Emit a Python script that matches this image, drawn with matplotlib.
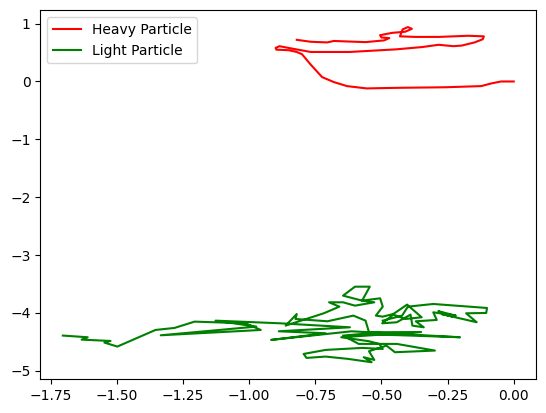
import matplotlib
matplotlib.use("Agg")
import matplotlib.pyplot as plt

# Heavy particle trajectory
HEAVY_X = [0.0, -0.02, -0.048, -0.086, -0.123, -0.26, -0.445, -0.556, -0.63, -0.68,
           -0.724, -0.767, -0.80, -0.82, -0.85, -0.897, -0.90, -0.885, -0.84, -0.767,
           -0.62, -0.445, -0.346, -0.284, -0.228, -0.197, -0.148, -0.117, -0.113, -0.172,
           -0.284, -0.37, -0.43, -0.42, -0.40, -0.385, -0.41, -0.46, -0.505, -0.50,
           -0.47, -0.49, -0.56, -0.68, -0.705, -0.767, -0.82]
HEAVY_Y = [0.0, 0.0, 0.0, -0.035, -0.08, -0.10, -0.11, -0.12, -0.08, -0.01,
           0.075, 0.29, 0.47, 0.51, 0.54, 0.55, 0.58, 0.61, 0.57, 0.51,
           0.51, 0.555, 0.595, 0.634, 0.61, 0.62, 0.675, 0.73, 0.78, 0.79,
           0.77, 0.77, 0.78, 0.90, 0.94, 0.91, 0.86, 0.84, 0.80, 0.76,
           0.75, 0.71, 0.68, 0.70, 0.675, 0.686, 0.72]

# Light particle trajectory
LIGHT_X = [-1.704, -1.610, -1.633, -1.524, -1.547, -1.498, -1.354, -1.282, -1.206, -1.013,
           -0.956, -1.334, -0.973, -1.127, -0.882, -0.619, -0.888, -0.711, -0.917, -0.672,
           -0.613, -0.203, -0.573, -0.645, -0.586, -0.442, -0.298, -0.449, -0.481, -0.547,
           -0.527, -0.567, -0.537, -0.626, -0.711, -0.783, -0.794, -0.711, -0.573, -0.495,
           -0.508, -0.547, -0.652, -0.350, -0.547, -0.560, -0.606, -0.704, -0.737, -0.825,
           -0.820, -0.862, -0.718, -0.659, -0.698, -0.645, -0.600, -0.527, -0.573, -0.645,
           -0.600, -0.544, -0.573, -0.505, -0.495, -0.521, -0.495, -0.455, -0.403, -0.348,
           -0.409, -0.455, -0.497, -0.442, -0.390, -0.383, -0.340, -0.370, -0.291, -0.304,
           -0.219, -0.285, -0.233, -0.272, -0.140, -0.180, -0.104, -0.101, -0.304, -0.400,
           -0.422, -0.495]
LIGHT_Y = [-4.391, -4.420, -4.461, -4.484, -4.512, -4.581, -4.294, -4.259, -4.150, -4.179,
           -4.294, -4.386, -4.236, -4.133, -4.179, -4.248, -4.317, -4.351, -4.466, -4.346,
           -4.317, -4.420, -4.363, -4.391, -4.535, -4.535, -4.650, -4.679, -4.564, -4.662,
           -4.812, -4.765, -4.852, -4.794, -4.754, -4.777, -4.708, -4.639, -4.604, -4.622,
           -4.535, -4.489, -4.420, -4.330, -4.334, -4.133, -4.046, -4.144, -4.133, -4.104,
           -4.018, -4.219, -4.006, -3.891, -3.816, -3.816, -3.874, -3.816, -3.787, -3.701,
           -3.546, -3.546, -3.787, -3.747, -3.891, -4.046, -4.064, -4.018, -3.856, -4.075,
           -4.104, -4.029, -4.179, -4.161, -4.029, -4.219, -4.248, -4.144, -4.121, -3.989,
           -4.046, -3.970, -4.060, -4.020, -4.161, -4.006, -4.000, -3.914, -3.845, -3.891,
           -4.046, -4.133]


def main():
    fig = plt.figure(figsize=(5.46, 4.13), dpi=100)
    ax = fig.add_axes([0.0738, 0.0823, 0.9084, 0.8927])

    ax.plot(HEAVY_X, HEAVY_Y, color="red", label="Heavy Particle")
    ax.plot(LIGHT_X, LIGHT_Y, color="green", label="Light Particle")
    ax.legend(loc="upper left")

    fig.savefig("out.png", dpi=100)


if __name__ == "__main__":
    main()
